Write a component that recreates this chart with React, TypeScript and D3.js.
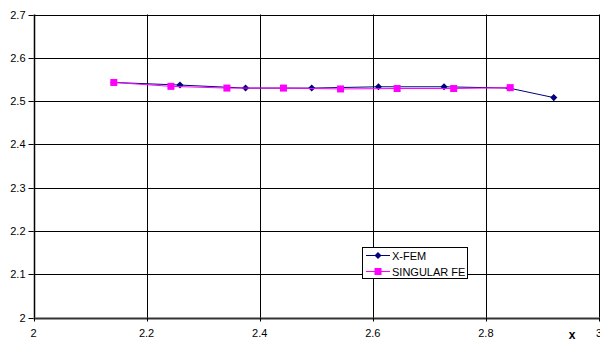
import React from 'react';
import { scaleLinear, line } from 'd3';

const xfemX = [2.142, 2.259, 2.375, 2.492, 2.61, 2.726, 2.841, 2.92];
const xfemY = [2.543, 2.537, 2.53, 2.53, 2.533, 2.533, 2.53, 2.508];
const singX = [2.142, 2.243, 2.342, 2.442, 2.543, 2.643, 2.743, 2.843];
const singY = [2.543, 2.534, 2.53, 2.53, 2.528, 2.529, 2.529, 2.531];
const xTicks = [2, 2.2, 2.4, 2.6, 2.8, 3];
const yTicks = [2, 2.1, 2.2, 2.3, 2.4, 2.5, 2.6, 2.7];
const seriesNames = ['X-FEM', 'SINGULAR FE'];

const App = () => {
  const w = 600;
  const h = 341;
  const left = 33.5;
  const right = 599;
  const top = 14.5;
  const bottom = 317.5;

  const xScale = scaleLinear().domain([2, 3]).range([left, right]);
  const yScale = scaleLinear().domain([2, 2.7]).range([bottom, top]);

  const gen = line<[number, number]>()
    .x(d => xScale(d[0]))
    .y(d => yScale(d[1]));

  const xfem = xfemX.map((x, i) => [x, xfemY[i]] as [number, number]);
  const sing = singX.map((x, i) => [x, singY[i]] as [number, number]);

  const font = '"Liberation Sans", Arial, sans-serif';

  return (
    <svg width={w} height={h} style={{ position: 'absolute', left: 0, top: 0, background: '#fff' }}>
      {yTicks.map(t => (
        <g key={'y' + t}>
          <line x1={left} x2={right} y1={Math.round(yScale(t)) + 0.5} y2={Math.round(yScale(t)) + 0.5}
            stroke={t === 2 ? '#333' : '#000'} strokeWidth={t === 2 ? 2 : 1} />
          <line x1={left - 5} x2={left} y1={Math.round(yScale(t)) + 0.5} y2={Math.round(yScale(t)) + 0.5} stroke="#000" />
          <text x={left - 8} y={yScale(t) + 4} textAnchor="end" fontSize={11} fontFamily={font} fill="#000">{String(t)}</text>
        </g>
      ))}
      {xTicks.map(t => (
        <g key={'x' + t}>
          <line x1={Math.round(xScale(t)) + 0.5} x2={Math.round(xScale(t)) + 0.5} y1={top} y2={bottom}
            stroke="#000" strokeWidth={t === 2 ? 1.5 : 1} />
          <line x1={Math.round(xScale(t)) + 0.5} x2={Math.round(xScale(t)) + 0.5} y1={bottom} y2={bottom + 4} stroke="#000" />
          <text x={xScale(t)} y={bottom + 19.5} textAnchor="middle" fontSize={11} fontFamily={font} fill="#000">{String(t)}</text>
        </g>
      ))}
      <text x={572} y={339} textAnchor="middle" fontSize={12} fontWeight="bold" fontFamily={font}>x</text>

      <path d={gen(xfem) || ''} fill="none" stroke="#000080" strokeWidth={1} />
      {xfem.map((d, i) => (
        <rect key={'d' + i} x={-2.5} y={-2.5} width={5} height={5} fill="#000080"
          transform={`translate(${xScale(d[0])},${yScale(d[1])}) rotate(45)`} />
      ))}
      <path d={gen(sing) || ''} fill="none" stroke="#ff00ff" strokeWidth={1} />
      {sing.map((d, i) => (
        <rect key={'s' + i} x={xScale(d[0]) - 3.5} y={yScale(d[1]) - 3.5} width={7} height={7} fill="#ff00ff" />
      ))}

      <g>
        <rect x={362.5} y={247.5} width={105} height={31} fill="#fff" stroke="#000" />
        <line x1={366} x2={390} y1={255.5} y2={255.5} stroke="#000080" />
        <rect x={-2.5} y={-2.5} width={5} height={5} fill="#000080" transform="translate(378,255.5) rotate(45)" />
        <text x={392} y={259.5} fontSize={11} fontFamily={font}>{seriesNames[0]}</text>
        <line x1={366} x2={390} y1={271.5} y2={271.5} stroke="#ff00ff" />
        <rect x={374.5} y={268} width={7} height={7} fill="#ff00ff" />
        <text x={392} y={275.5} fontSize={11} fontFamily={font}>{seriesNames[1]}</text>
      </g>
    </svg>
  );
};

export default App;
